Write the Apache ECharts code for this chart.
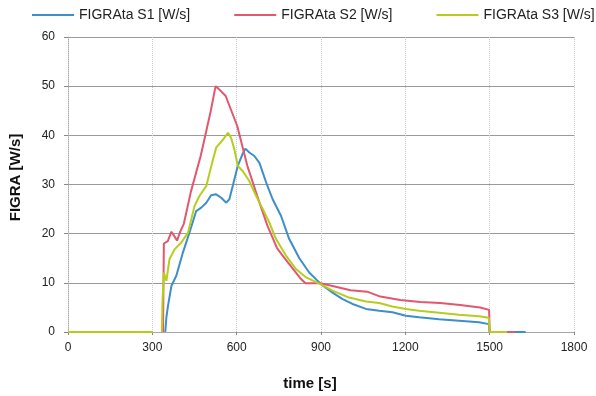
<!DOCTYPE html>
<html><head><meta charset="utf-8">
<script src="https://cdn.jsdelivr.net/npm/echarts@6/dist/echarts.min.js"></script>
<style>html,body{margin:0;padding:0;background:#fff}#c{width:596px;height:396px}</style>
</head><body><div id="c"></div>
<script>
var seriesNames = ['FIGRAta S1 [W/s]', 'FIGRAta S2 [W/s]', 'FIGRAta S3 [W/s]'];
var xTicks = [0, 300, 600, 900, 1200, 1500, 1800];
var yTicks = [0, 10, 20, 30, 40, 50, 60];

var s1Time = [0, 302, null, 346, 350, 356, 368, 385, 409, 432, 456, 474, 492, 509, 527, 545, 563, 574, 586, 604, 620, 631, 645, 663, 681, 705, 728, 758, 787, 823, 858, 888, 900, 941, 977, 1012, 1060, 1107, 1154, 1202, 1249, 1320, 1391, 1462, 1497, 1500, 1628];
var s1Val  = [0, 0, null, 0, 3, 5.4, 9.4, 11.4, 16.2, 20.2, 24.6, 25.3, 26.3, 27.8, 28, 27.3, 26.3, 27, 29.7, 33.8, 36.1, 37.3, 36.5, 35.8, 34.4, 30.4, 27, 23.6, 18.9, 15, 12.1, 10.4, 9.7, 8.0, 6.7, 5.7, 4.7, 4.3, 4.0, 3.3, 3.0, 2.6, 2.3, 2.0, 1.6, 0, 0];

var s2Time = [0, 302, null, 338, 341, 355, 368, 378, 388, 400, 412, 437, 472, 508, 525, 535, 561, 602, 638, 673, 709, 744, 780, 827, 845, 898, 945, 1005, 1064, 1111, 1182, 1253, 1324, 1395, 1466, 1498, 1500, 1590];
var s2Val  = [0, 0, null, 0, 18, 18.5, 20.4, 19.5, 18.6, 20.5, 22, 28.5, 35.8, 45, 50, 49.5, 48, 41.9, 33.8, 27.7, 21.7, 17, 14.3, 10.9, 9.9, 9.9, 9.3, 8.5, 8.2, 7.2, 6.5, 6.1, 5.9, 5.5, 5.0, 4.5, 0, 0];

var s3Time = [0, 302, null, 334, 336, 341, 350, 361, 379, 403, 427, 450, 468, 492, 510, 527, 551, 569, 580, 592, 604, 622, 645, 669, 693, 716, 740, 776, 811, 847, 888, 900, 941, 1000, 1060, 1107, 1154, 1202, 1249, 1320, 1391, 1462, 1497, 1500, 1562];
var s3Val  = [0, 0, null, 0, 6, 12.1, 10.4, 14.8, 16.8, 18.2, 20.2, 25.6, 27.7, 29.7, 33.8, 37.5, 39.1, 40.5, 39.5, 37.1, 33.8, 32.7, 30.7, 27.7, 25, 22.3, 18.9, 15.5, 12.8, 11.1, 10, 9.7, 8.4, 7.0, 6.2, 5.9, 5.2, 4.7, 4.3, 3.9, 3.5, 3.2, 2.9, 0, 0];

function pairs(t, v) {
  return t.map(function (x, i) { return x === null ? [null, null] : [x, v[i]]; });
}

var colors = ['#3d8ec9', '#e2576e', '#b7cd1e'];
var chart = echarts.init(document.getElementById('c'), null, {renderer: 'canvas'});
var font = 'Liberation Sans, Arial, sans-serif';
chart.setOption({
  animation: false,
  backgroundColor: '#ffffff',
  color: colors,
  legend: {
    top: 8, left: 32, width: 596, padding: 0, itemGap: 44, itemWidth: 42, itemHeight: 10,
    icon: 'path://M0,4L42,4L42,6L0,6Z',
    textStyle: {fontFamily: font, fontSize: 14, color: '#222'},
    data: seriesNames
  },
  grid: {left: 68, right: 22, top: 37, bottom: 63, containLabel: false},
  xAxis: {
    type: 'value', min: 0, max: 1800, interval: 300,
    name: 'time [s]', nameLocation: 'middle', nameGap: 44,
    nameTextStyle: {fontFamily: font, fontSize: 15, fontWeight: 'bold', color: '#111', padding: [0, 22, 0, 0]},
    axisLine: {show: true, lineStyle: {color: '#aaa', type: 'dotted', width: 1}},
    axisTick: {show: true, length: 3, lineStyle: {color: '#888'}},
    axisLabel: {fontFamily: font, fontSize: 12, color: '#222', margin: 10, formatter: function (v) { return String(v); }},
    splitLine: {show: true, lineStyle: {color: '#c8c8c8', type: 'dotted', width: 1}}
  },
  yAxis: {
    type: 'value', min: 0, max: 60, interval: 10,
    name: 'FIGRA [W/s]', nameLocation: 'middle', nameGap: 45,
    nameTextStyle: {fontFamily: font, fontSize: 15, fontWeight: 'bold', color: '#111', padding: [0, 0, 0, 14]},
    axisLine: {show: true, lineStyle: {color: '#aaa', type: 'dotted', width: 1}},
    axisTick: {show: true, length: 4, lineStyle: {color: '#888'}},
    axisLabel: {fontFamily: font, fontSize: 12, color: '#222', margin: 13},
    splitLine: {show: true, lineStyle: {color: '#9a9a9a', width: 1}}
  },
  series: [
    {name: seriesNames[0], type: 'line', showSymbol: false, connectNulls: false, lineStyle: {width: 2}, data: pairs(s1Time, s1Val)},
    {name: seriesNames[1], type: 'line', showSymbol: false, connectNulls: false, lineStyle: {width: 2}, data: pairs(s2Time, s2Val)},
    {name: seriesNames[2], type: 'line', showSymbol: false, connectNulls: false, lineStyle: {width: 2}, data: pairs(s3Time, s3Val)}
  ]
});
</script></body></html>
